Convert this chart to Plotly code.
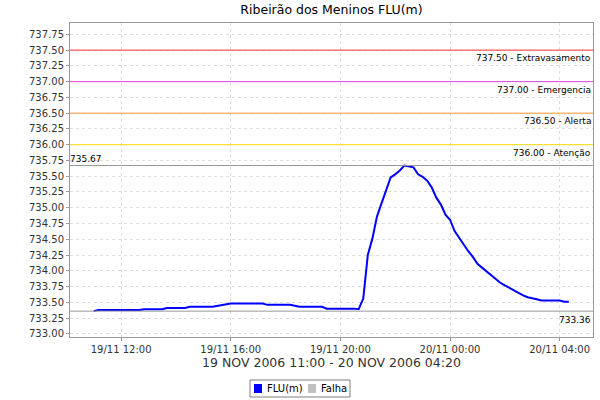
import plotly.graph_objects as go

times = ["2006-11-19 11:00", "2006-11-19 11:10", "2006-11-19 12:40", "2006-11-19 12:50",
         "2006-11-19 13:30", "2006-11-19 13:40", "2006-11-19 14:20", "2006-11-19 14:30",
         "2006-11-19 15:20", "2006-11-19 15:40", "2006-11-19 16:00", "2006-11-19 17:10",
         "2006-11-19 17:20", "2006-11-19 18:10", "2006-11-19 18:30", "2006-11-19 19:20",
         "2006-11-19 19:30", "2006-11-19 20:30", "2006-11-19 20:40", "2006-11-19 20:50",
         "2006-11-19 21:00", "2006-11-19 21:10", "2006-11-19 21:20", "2006-11-19 21:30",
         "2006-11-19 21:40", "2006-11-19 21:50", "2006-11-19 22:00", "2006-11-19 22:10",
         "2006-11-19 22:20", "2006-11-19 22:30", "2006-11-19 22:40", "2006-11-19 22:50",
         "2006-11-19 23:00", "2006-11-19 23:10", "2006-11-19 23:20", "2006-11-19 23:30",
         "2006-11-19 23:40", "2006-11-19 23:50", "2006-11-20 00:00", "2006-11-20 00:10",
         "2006-11-20 00:20", "2006-11-20 00:30", "2006-11-20 00:40", "2006-11-20 00:50",
         "2006-11-20 01:00", "2006-11-20 01:10", "2006-11-20 01:20", "2006-11-20 01:30",
         "2006-11-20 01:40", "2006-11-20 01:50", "2006-11-20 02:00", "2006-11-20 02:10",
         "2006-11-20 02:20", "2006-11-20 02:30", "2006-11-20 02:40", "2006-11-20 02:50",
         "2006-11-20 03:00", "2006-11-20 03:10", "2006-11-20 03:20", "2006-11-20 03:50",
         "2006-11-20 04:00", "2006-11-20 04:10", "2006-11-20 04:20"]
levels = [733.36, 733.38, 733.38, 733.39,
          733.39, 733.41, 733.41, 733.43,
          733.43, 733.46, 733.48, 733.48,
          733.46, 733.46, 733.43, 733.43,
          733.40, 733.40, 733.39, 733.56,
          734.25, 734.51, 734.86, 735.07,
          735.29, 735.48, 735.53, 735.59,
          735.67, 735.66, 735.64, 735.53,
          735.49, 735.43, 735.32, 735.16,
          735.05, 734.89, 734.81, 734.63,
          734.52, 734.42, 734.31, 734.22,
          734.11, 734.05, 733.99, 733.93,
          733.86, 733.81, 733.77, 733.73,
          733.68, 733.64, 733.61, 733.58,
          733.57, 733.55, 733.53, 733.53,
          733.53, 733.51, 733.51]

thresholds = [737.50, 737.00, 736.50, 736.00]
threshold_names = ["Extravasamento", "Emergencia", "Alerta", "Atenção"]
threshold_colors = ["#ff3333", "#e040e0", "#ff9933", "#ffdd00"]
max_level = 735.67
min_level = 733.36

legend_names = ["FLU(m)", "Falha"]
legend_colors = ["#0000ff", "#c0c0c0"]

FONT = "DejaVu Sans"
W, H = 600, 400
L, R, T, B = 70, 7, 23, 63
PW, PH = W - L - R, H - T - B


def px(x):
    return (x - L) / PW


def py(y):
    return (H - B - y) / PH


fig = go.Figure()
fig.add_trace(go.Scatter(x=times, y=levels, mode="lines", name=legend_names[0],
                         line=dict(color=legend_colors[0], width=2), showlegend=False))

for v, n, c in zip(thresholds, threshold_names, threshold_colors):
    fig.add_hline(y=v, line=dict(color=c, width=1))
    fig.add_annotation(x=1, xref="paper", y=v, yref="y", text=f"{v:.2f} - {n}",
                       xanchor="right", yanchor="top", showarrow=False,
                       font=dict(family=FONT, size=9, color="#000000"), xshift=0, yshift=-1)

fig.add_hline(y=max_level, line=dict(color="#999999", width=1))
fig.add_hline(y=min_level, line=dict(color="#999999", width=1))
fig.add_annotation(x=0, xref="paper", y=max_level, yref="y", text=f"{max_level:.2f}",
                   xanchor="left", yanchor="bottom", showarrow=False,
                   font=dict(family=FONT, size=9, color="#000000"), xshift=-2)
fig.add_annotation(x=1, xref="paper", y=min_level, yref="y", text=f"{min_level:.2f}",
                   xanchor="right", yanchor="top", showarrow=False,
                   font=dict(family=FONT, size=9, color="#000000"), xshift=0, yshift=-2)

# legend box (drawn to match the compact original legend)
fig.add_shape(type="rect", xref="paper", yref="paper",
              x0=px(250), x1=px(350), y0=py(380), y1=py(397),
              line=dict(color="#808080", width=1), fillcolor="white", layer="above")
sq_x = [254, 308]
tx_x = [265, 319]
for name, col, sx, tx in zip(legend_names, legend_colors, sq_x, tx_x):
    fig.add_shape(type="rect", xref="paper", yref="paper",
                  x0=px(sx), x1=px(sx + 8), y0=py(384), y1=py(393),
                  line=dict(width=0), fillcolor=col, layer="above")
    fig.add_annotation(x=px(tx), xref="paper", y=py(388.5), yref="paper", text=name,
                       xanchor="left", yanchor="middle", showarrow=False,
                       font=dict(family=FONT, size=10, color="#000000"))

fig.update_layout(
    width=W, height=H,
    margin=dict(l=L, r=R, t=T, b=B, autoexpand=False),
    paper_bgcolor="white", plot_bgcolor="white",
    font=dict(family=FONT, size=10, color="#333333"),
    showlegend=False,
    title=dict(text="Ribeirão dos Meninos FLU(m)", x=0.5, xref="paper", xanchor="center",
               y=0.975, yref="container", yanchor="middle",
               font=dict(family=FONT, size=12.5, color="#000000")),
    xaxis=dict(
        type="date",
        range=["2006-11-19 10:08", "2006-11-20 05:13"],
        tick0="2006-11-19 12:00", dtick=4 * 3600 * 1000,
        tickformat="%d/%m %H:%M",
        showgrid=True, gridcolor="#dedede", griddash="3px,3px", gridwidth=1,
        showline=True, linecolor="#999999", linewidth=1, mirror=True,
        ticks="outside", ticklen=3, tickcolor="#999999",
        tickfont=dict(family=FONT, size=10, color="#333333"),
        title=dict(text="19 NOV 2006 11:00 - 20 NOV 2006 04:20", standoff=4,
                   font=dict(family=FONT, size=12.5, color="#333333")),
        zeroline=False, automargin=False,
    ),
    yaxis=dict(
        range=[732.95, 737.93],
        tick0=733.0, dtick=0.25, tickformat=".2f",
        showgrid=True, gridcolor="#dedede", griddash="3px,3px", gridwidth=1,
        showline=True, linecolor="#999999", linewidth=1, mirror=True,
        ticks="outside", ticklen=3, tickcolor="#999999",
        tickfont=dict(family=FONT, size=10, color="#333333"),
        zeroline=False, automargin=False,
    ),
)

fig.write_html("out.html", config={"displayModeBar": False},
               post_script="document.body.style.margin='0';")
